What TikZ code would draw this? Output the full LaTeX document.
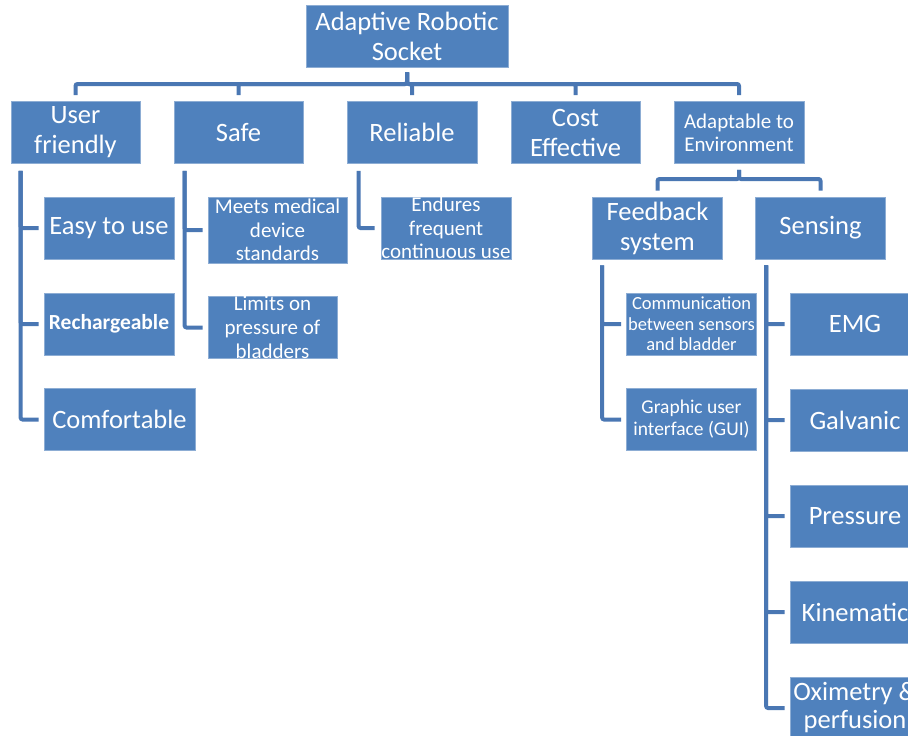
\documentclass[tikz,border=0pt]{standalone}
\usepackage{fontspec}
\setmainfont{Carlito}
\definecolor{boxblue}{HTML}{4F81BD}
\definecolor{lineblue}{HTML}{4A77B3}

\begin{document}
\begin{tikzpicture}[x=1pt,y=-1pt,
  blk/.style={fill=boxblue, draw=boxblue!65!white, line width=0.8pt, text=white,
    inner sep=0pt, minimum width=130pt, minimum height=62pt, align=center,
    font=\fontsize{26.5}{30}\selectfont},
  tree/.style={lineblue, line width=4pt, rounded corners=2pt}]
\useasboundingbox (0,0) rectangle (908,736);
\clip (0,0) rectangle (908,736);

% top level
\node[blk, minimum width=202pt] (socket) at (407,36) {Adaptive Robotic\\Socket};
\node[blk, minimum width=129pt] (user) at (75.5,132.5) {User\\friendly};
\node[blk, minimum width=129pt] (safe) at (238.5,132.5) {Safe};
\node[blk] (reliable) at (412,132.5) {Reliable};
\node[blk, minimum width=129pt] (cost) at (575.5,132.5) {Cost\\Effective};
\node[blk, font=\fontsize{21}{23}\selectfont] (adapt) at (739,132.5) {Adaptable to\\Environment};

% user friendly
\node[blk] (easy) at (109,228) {Easy to use};
\node[blk, font=\bfseries\fontsize{21.5}{24}\selectfont] (recharge) at (109,324) {Rechargeable};
\node[blk, minimum width=151pt] (comfort) at (119.5,419.5) {Comfortable};

% safe
\node[blk, minimum width=139pt, minimum height=66pt, font=\fontsize{21}{23.5}\selectfont] (medical) at (277.5,230) {Meets medical\\device\\standards};
\node[blk, minimum width=129pt, font=\fontsize{21}{24}\selectfont] (limits) at (272.5,327.5) {Limits on\\pressure of\\bladders};

% reliable
\node[blk, font=\fontsize{21}{23.5}\selectfont] (endures) at (446,228) {Endures\\frequent\\continuous use};

% adaptable
\node[blk] (feedback) at (657.5,228) {Feedback\\system};
\node[blk] (sensing) at (820.5,228) {Sensing};
\node[blk, font=\fontsize{18.5}{20.5}\selectfont] (comm) at (691.5,324) {Communication\\between sensors\\and bladder};
\node[blk, font=\fontsize{19.5}{22}\selectfont] (gui) at (691.5,419.5) {Graphic user\\interface (GUI)};
\node[blk] (emg) at (855,324) {EMG};
\node[blk] (galvanic) at (855,420) {Galvanic};
\node[blk] (pressure) at (855,516) {Pressure};
\node[blk] (kinematic) at (855,612) {Kinematic};
\node[blk, font=\fontsize{26.5}{28}\selectfont] (oxi) at (855,708) {Oximetry \&\\perfusion};

% connectors
\coordinate (bus) at (0,84);
\coordinate (subbus) at (0,179);
\foreach \c in {user,safe,reliable,cost,adapt}
  \draw[tree, shorten <=6pt, shorten >=5pt] (\c.north) -- (\c.north |- bus) -| (socket.south);
\foreach \c in {feedback,sensing}
  \draw[tree, shorten <=6pt, shorten >=6pt] (\c.north) -- (\c.north |- subbus) -| (adapt.south);

\foreach \c in {easy,recharge,comfort}
  \draw[tree] ([shift={(10,7)}]user.south west) |- ([xshift=-5pt]\c.west);
\foreach \c in {medical,limits}
  \draw[tree] ([shift={(11,7)}]safe.south west) |- ([xshift=-5pt]\c.west);
\draw[tree] ([shift={(12,7)}]reliable.south west) |- ([xshift=-6pt]endures.west);
\foreach \c in {comm,gui}
  \draw[tree] ([shift={(10,6)}]feedback.south west) |- ([xshift=-5pt]\c.west);
\foreach \c in {emg,galvanic,pressure,kinematic,oxi}
  \draw[tree] ([shift={(11,6)}]sensing.south west) |- ([xshift=-5pt]\c.west);
\end{tikzpicture}
\end{document}
